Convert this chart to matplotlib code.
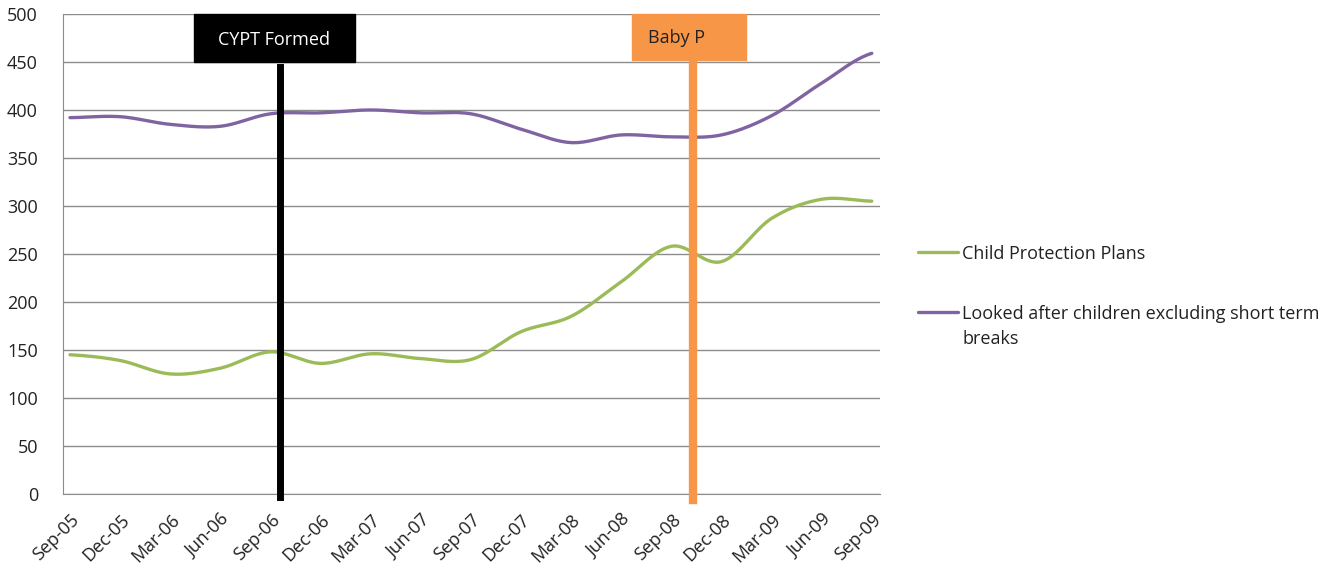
import numpy as np
import matplotlib.pyplot as plt
from matplotlib.patches import Rectangle

quarters = ["Sep-05", "Dec-05", "Mar-06", "Jun-06", "Sep-06", "Dec-06", "Mar-07",
            "Jun-07", "Sep-07", "Dec-07", "Mar-08", "Jun-08", "Sep-08", "Dec-08",
            "Mar-09", "Jun-09", "Sep-09"]
child_protection = [145, 139, 125, 131, 148, 136, 146, 141, 140, 169, 185, 221,
                    258, 242, 287, 307, 305]
looked_after = [392, 393, 385, 383, 396, 397, 400, 397, 396, 380, 366, 374,
                372, 374, 394, 428, 459]

# event markers: (label, position in quarters)
cypt_label, cypt_pos = "CYPT Formed", 4.2
babyp_label, babyp_pos = "Baby P", 12.43

GREEN = "#9BBB59"
PURPLE = "#8064A2"
ORANGE = "#F79646"
TEXT = "#222222"

plt.rcParams["font.family"] = ["Open Sans", "DejaVu Sans"]


def smooth(y, steps=20):
    """Catmull-Rom curve through the points, like a spreadsheet 'smoothed line'."""
    y = np.asarray(y, dtype=float)
    p = np.concatenate([[y[0]], y, [y[-1]]])
    xs, ys = [], []
    for i in range(len(y) - 1):
        p0, p1, p2, p3 = p[i], p[i + 1], p[i + 2], p[i + 3]
        t = np.linspace(0, 1, steps, endpoint=False)
        seg = 0.5 * ((2 * p1) + (-p0 + p2) * t + (2 * p0 - 5 * p1 + 4 * p2 - p3) * t ** 2
                     + (-p0 + 3 * p1 - 3 * p2 + p3) * t ** 3)
        xs.append(i + t)
        ys.append(seg)
    xs.append([len(y) - 1])
    ys.append([y[-1]])
    return np.concatenate(xs), np.concatenate(ys)


fig = plt.figure(figsize=(13.31, 5.73), dpi=100)
ax = fig.add_axes([0.0473, 0.138, 0.6137, 0.8376])

x = np.arange(len(quarters))
gx, gy = smooth(child_protection)
px, py = smooth(looked_after)
ax.plot(gx, gy, color=GREEN, lw=2.4, label="Child Protection Plans", solid_capstyle="round")
ax.plot(px, py, color=PURPLE, lw=2.4,
        label="Looked after children excluding short term", solid_capstyle="round")

ax.set_xlim(-0.14, 16.16)
ax.set_ylim(0, 500)
ax.set_yticks(range(0, 501, 50))
ax.set_xticks(x)
ax.set_xticklabels(quarters, rotation=45, ha="right", rotation_mode="anchor")
ax.tick_params(axis="both", length=0, labelsize=13, colors=TEXT)
ax.tick_params(axis="x", pad=12)
ax.tick_params(axis="y", pad=18)
ax.grid(axis="y", color="#8c8c8c", lw=1)
ax.set_axisbelow(True)
for side in ["top", "right"]:
    ax.spines[side].set_visible(False)
ax.spines["left"].set_color("#8c8c8c")
ax.spines["bottom"].set_color("#8c8c8c")

# event lines and their label boxes
ax.plot([cypt_pos, cypt_pos], [445, -3], color="black", lw=5, clip_on=False, zorder=4)
ax.add_patch(Rectangle((2.47, 450), 3.22, 50, color="black", zorder=5, clip_on=False))
ax.text(4.08, 473, cypt_label, color="white", fontsize=13, ha="center", va="center", zorder=6)

ax.plot([babyp_pos, babyp_pos], [451, -6], color=ORANGE, lw=6, clip_on=False, zorder=4)
ax.add_patch(Rectangle((11.21, 452), 2.29, 48, color=ORANGE, zorder=5, clip_on=False))
ax.text(11.53, 475, babyp_label, color=TEXT, fontsize=13, ha="left", va="center", zorder=6)

leg = ax.legend(loc="upper left", bbox_to_anchor=(1.036, 0.538), frameon=False,
                fontsize=13, borderpad=0, handlelength=2.2, handletextpad=0.25,
                labelspacing=2.33)
for t in leg.get_texts():
    t.set_color(TEXT)
# second line of the purple legend label
fig.text(963 / 1331, 1 - 339 / 573, "breaks", fontsize=13, color=TEXT, va="center")

fig.savefig("out.png", dpi=100)
